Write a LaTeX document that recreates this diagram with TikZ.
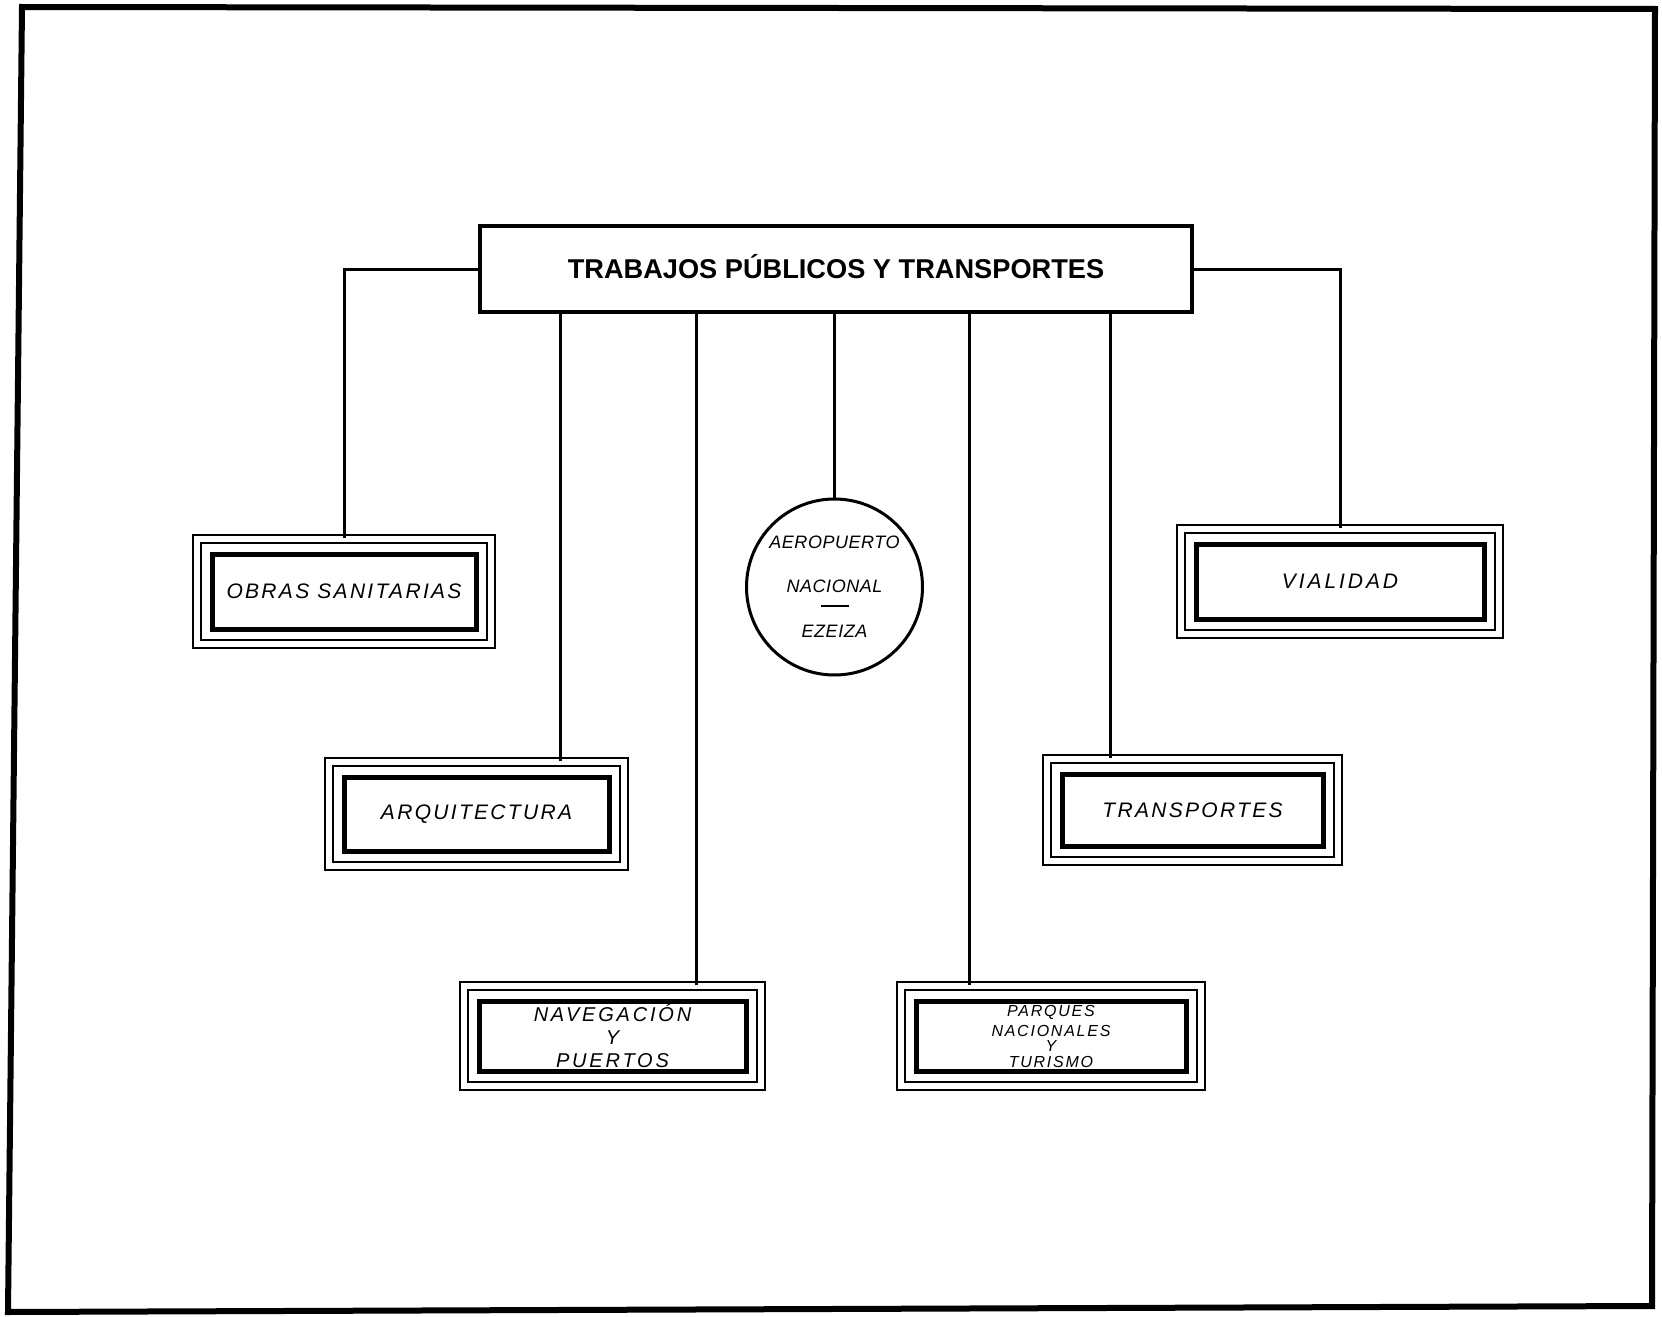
\documentclass[tikz,border=0pt]{standalone}
\usepackage{fontspec}
\setmainfont{Liberation Sans}
\newfontfamily\labfont[LetterSpace=11]{Liberation Sans}
\newfontfamily\navfont[LetterSpace=14]{Liberation Sans}
\newfontfamily\aerofont[LetterSpace=3]{Liberation Sans}
\usetikzlibrary{positioning}

\begin{document}
\begin{tikzpicture}[x=0.5pt,y=-0.5pt,line width=1.5pt,
  head/.style={draw,line width=2pt,minimum width=356pt,minimum height=43pt,inner sep=0pt,
    text height=9.8pt,text depth=0pt,font=\bfseries\fontsize{13.6}{16}\selectfont},
  sec/.style={draw,line width=0.9pt,double,double distance=3pt,inner sep=0pt,align=center,
    font=\labfont\itshape\fontsize{10.5}{12}\selectfont,
    path picture={\draw[line width=2.5pt] ([shift={(7.5pt,-7.5pt)}]path picture bounding box.north west)
      rectangle ([shift={(-7.5pt,7.5pt)}]path picture bounding box.south east);}},
  aero/.style={draw,circle,line width=1.5pt,minimum size=88pt,inner sep=0pt,align=center,
    font=\aerofont\itshape\fontsize{9}{11}\selectfont}]
  \useasboundingbox (0,0) rectangle (1662,1317);
  % outer frame
  \draw[line width=3pt] (22,7) -- (1655,9) -- (1652,1306) -- (8,1312) -- cycle;
  % title and sections
  \node[head] (tpt) at (836,269) {TRABAJOS PÚBLICOS Y TRANSPORTES};
  \node[sec,minimum width=147pt,minimum height=52.5pt] (obras) at (344,591.5) {OBRAS SANITARIAS};
  \node[sec,minimum width=147.5pt,minimum height=52pt] (arq) at (476.5,814) {ARQUITECTURA};
  \node[sec,minimum width=148.5pt,minimum height=50pt,font=\navfont\itshape\fontsize{10}{11.5}\selectfont] (nav) at (612.5,1036)
    {NAVEGACIÓN\\Y\\PUERTOS};
  \node[aero] (ezeiza) at (834.5,587) {AEROPUERTO\\[11pt]NACIONAL\\[-3.7pt]\rule{14pt}{1pt}\\[4.2pt]EZEIZA};
  \node[sec,minimum width=159pt,minimum height=52.5pt,font=\navfont\itshape\fontsize{10.5}{12}\selectfont] (vial) at (1340,581.5) {VIALIDAD};
  \node[sec,minimum width=145.5pt,minimum height=51pt] (transp) at (1192.5,810) {TRANSPORTES};
  \node[sec,minimum width=150pt,minimum height=50pt,font=\labfont\itshape\fontsize{8}{8.5}\selectfont] (parq) at (1051,1036)
    {PARQUES\\[1.5pt]NACIONALES\\[-1pt]Y\\[-0.5pt]TURISMO};
  % drop points on the title box
  \coordinate (a1) at ([xshift=41.75pt]arq.north);
  \coordinate (a2) at ([xshift=42pt]nav.north);
  \coordinate (a3) at ([xshift=-41pt]parq.north);
  \coordinate (a4) at ([xshift=-41pt]transp.north);
  % connectors
  \draw (tpt.west) -| (obras.north);
  \draw (tpt.east) -| (vial.north);
  \draw (a1) -- (a1 |- tpt.south);
  \draw (a2) -- (a2 |- tpt.south);
  \draw (ezeiza.north) -- (ezeiza.north |- tpt.south);
  \draw (a3) -- (a3 |- tpt.south);
  \draw (a4) -- (a4 |- tpt.south);
\end{tikzpicture}
\end{document}
